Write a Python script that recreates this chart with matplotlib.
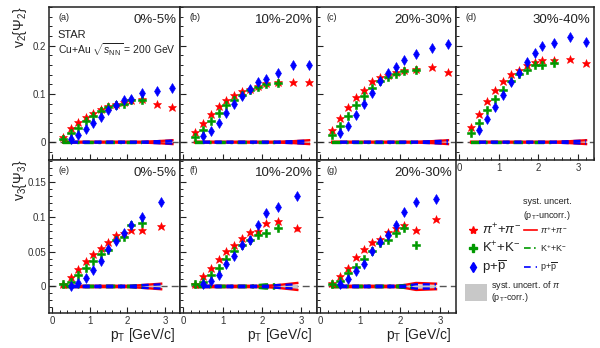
import numpy as np
import matplotlib
matplotlib.use('Agg')
import matplotlib.pyplot as plt
from matplotlib.patches import Rectangle

plt.rcParams['font.family'] = ['Liberation Sans', 'DejaVu Sans']
plt.rcParams['mathtext.fontset'] = 'custom'
plt.rcParams['mathtext.rm'] = 'Liberation Sans'
plt.rcParams['mathtext.it'] = 'Liberation Sans:italic'
plt.rcParams['mathtext.bf'] = 'Liberation Sans:bold'

# ---- data ----
cent_v2 = ['0%-5%', '10%-20%', '20%-30%', '30%-40%']
cent_v3 = ['0%-5%', '10%-20%', '20%-30%']
tags_v2 = ['(a)', '(b)', '(c)', '(d)']
tags_v3 = ['(e)', '(f)', '(g)']

pt2_pi = [0.3, 0.5, 0.7, 0.9, 1.1, 1.3, 1.5, 1.7, 1.9, 2.1, 2.4, 2.8, 3.2]
pt2_k = [0.3, 0.5, 0.7, 0.9, 1.1, 1.3, 1.5, 1.7, 1.9, 2.1, 2.4]
pt2_p = [0.5, 0.7, 0.9, 1.1, 1.3, 1.5, 1.7, 1.9, 2.1, 2.4, 2.8, 3.2]

v2_pi = [
    [0.010, 0.029, 0.041, 0.052, 0.061, 0.069, 0.074, 0.078, 0.083, 0.088, 0.090, 0.080, 0.073],
    [0.021, 0.040, 0.058, 0.074, 0.088, 0.097, 0.106, 0.111, 0.117, 0.123, 0.124, 0.124, 0.124],
    [0.026, 0.051, 0.073, 0.094, 0.109, 0.126, 0.134, 0.139, 0.146, 0.149, 0.152, 0.156, 0.145],
    [0.032, 0.058, 0.086, 0.108, 0.127, 0.141, 0.150, 0.159, 0.166, 0.171, 0.170, 0.173, 0.164],
]
v2_k = [
    [0.006, 0.018, 0.030, 0.043, 0.054, 0.065, 0.072, 0.076, 0.080, 0.087, 0.088],
    [0.011, 0.026, 0.043, 0.061, 0.076, 0.088, 0.098, 0.108, 0.114, 0.121, 0.123],
    [0.014, 0.034, 0.055, 0.076, 0.095, 0.112, 0.126, 0.134, 0.141, 0.148, 0.150],
    [0.019, 0.040, 0.066, 0.090, 0.108, 0.126, 0.142, 0.149, 0.159, 0.159, 0.163],
]
v2_p = [
    [0.007, 0.015, 0.028, 0.040, 0.053, 0.066, 0.076, 0.088, 0.090, 0.101, 0.106, 0.112],
    [0.012, 0.023, 0.040, 0.061, 0.079, 0.095, 0.110, 0.124, 0.131, 0.143, 0.159, 0.160],
    [0.018, 0.034, 0.057, 0.080, 0.102, 0.126, 0.143, 0.156, 0.171, 0.182, 0.196, 0.204],
    [0.025, 0.047, 0.072, 0.097, 0.124, 0.143, 0.166, 0.185, 0.199, 0.206, 0.217, 0.207],
]

pt3_pi = [0.3, 0.5, 0.7, 0.9, 1.1, 1.3, 1.5, 1.7, 1.9, 2.1, 2.4, 2.9]
pt3_k = [0.3, 0.5, 0.7, 0.9, 1.1, 1.3, 1.5, 1.7, 1.9, 2.1, 2.4]
pt3_p = [0.5, 0.7, 0.9, 1.1, 1.3, 1.5, 1.7, 1.9, 2.1, 2.4, 2.9]

v3_pi = [
    [0.004, 0.013, 0.025, 0.036, 0.046, 0.055, 0.064, 0.073, 0.077, 0.081, 0.081, 0.086],
    [0.004, 0.015, 0.026, 0.039, 0.051, 0.059, 0.070, 0.078, 0.079, 0.091, 0.094, 0.083],
    [0.005, 0.015, 0.027, 0.042, 0.053, 0.063, 0.068, 0.078, 0.083, 0.088, 0.081, 0.097],
]
v3_k = [
    [0.003, 0.006, 0.016, 0.026, 0.036, 0.046, 0.052, 0.067, 0.071, 0.088, 0.091],
    [0.003, 0.006, 0.017, 0.027, 0.039, 0.051, 0.059, 0.066, 0.073, 0.077, 0.083],
    [0.004, 0.008, 0.019, 0.028, 0.040, 0.051, 0.062, 0.067, 0.076, 0.084, 0.059],
]
v3_p = [
    [0.0005, 0.005, 0.012, 0.024, 0.037, 0.053, 0.065, 0.076, 0.088, 0.100, 0.121],
    [0.003, 0.008, 0.017, 0.032, 0.044, 0.059, 0.067, 0.088, 0.105, 0.114, 0.129],
    [0.004, 0.010, 0.022, 0.032, 0.051, 0.063, 0.074, 0.088, 0.106, 0.121, 0.125],
]

# systematic uncertainties (half widths of bands around zero)
sys2_pi = [0.001, 0.001, 0.001, 0.001, 0.001, 0.001, 0.001, 0.001, 0.001, 0.001, 0.001, 0.002, 0.004]
sys2_k = [0.001, 0.001, 0.001, 0.001, 0.001, 0.001, 0.001, 0.001, 0.001, 0.001, 0.001]
sys2_p = [0.001, 0.001, 0.001, 0.001, 0.001, 0.001, 0.001, 0.001, 0.001, 0.001, 0.002, 0.003]
sys2_pi_corr = [0.0005, 0.0005, 0.0005, 0.0005, 0.0005, 0.0005, 0.0005, 0.0005, 0.0005, 0.0005, 0.0008, 0.001, 0.002]

sys3_pi = [
    [0.001, 0.001, 0.001, 0.001, 0.001, 0.001, 0.001, 0.001, 0.001, 0.001, 0.002, 0.004],
    [0.001, 0.001, 0.001, 0.001, 0.001, 0.001, 0.001, 0.001, 0.001, 0.001, 0.002, 0.005],
    [0.001, 0.001, 0.001, 0.001, 0.001, 0.001, 0.001, 0.001, 0.001, 0.002, 0.005, 0.004],
]
sys3_k = [
    [0.001, 0.001, 0.001, 0.001, 0.001, 0.001, 0.001, 0.001, 0.001, 0.001, 0.002],
    [0.001, 0.001, 0.001, 0.001, 0.001, 0.001, 0.001, 0.001, 0.002, 0.003, 0.003],
    [0.001, 0.001, 0.001, 0.001, 0.001, 0.001, 0.001, 0.001, 0.001, 0.002, 0.002],
]
sys3_p = [
    [0.001, 0.001, 0.001, 0.001, 0.001, 0.001, 0.001, 0.001, 0.001, 0.002, 0.003],
    [0.001, 0.001, 0.001, 0.001, 0.001, 0.001, 0.001, 0.001, 0.001, 0.002, 0.003],
    [0.001, 0.001, 0.001, 0.001, 0.001, 0.001, 0.001, 0.001, 0.001, 0.003, 0.003],
]
sys3_pi_corr = [
    [0.0005, 0.0005, 0.0005, 0.0005, 0.0005, 0.0005, 0.0005, 0.0005, 0.0005, 0.0005, 0.001, 0.003],
    [0.0005, 0.0005, 0.0005, 0.0005, 0.0005, 0.0005, 0.0005, 0.0005, 0.0005, 0.0005, 0.002, 0.003],
    [0.0005, 0.0005, 0.0005, 0.0005, 0.0005, 0.0005, 0.0005, 0.0005, 0.0005, 0.001, 0.002, 0.002],
]

RED = '#ff0000'
GREEN = '#009900'
BLUE = '#0000ff'

W, H = 600, 348
fig = plt.figure(figsize=(6, 3.48), dpi=100)


def make_ax(x0, x1, y0, y1):
    return fig.add_axes([x0 / W, (H - y1) / H, (x1 - x0) / W, (y1 - y0) / H])


def style_ax(ax, ylim, ymaj, ymin, showx, showy):
    ax.set_xlim(-0.08, 3.4)
    ax.set_ylim(*ylim)
    ax.set_xticks([0, 1, 2, 3])
    ax.set_xticks(np.arange(0, 3.41, 0.2), minor=True)
    ax.set_yticks(ymaj)
    ax.set_yticks(ymin, minor=True)
    ax.tick_params(which='both', direction='in', labelsize=7, colors='#222222',
                   labelcolor='#333333', pad=2)
    ax.tick_params(which='major', length=4, width=0.8)
    ax.tick_params(which='minor', length=2, width=0.7)
    ax.tick_params(labelbottom=showx, labelleft=showy)
    for s in ax.spines.values():
        s.set_linewidth(1.1)
        s.set_color('#222222')
    ax.axhline(0, color='#555555', lw=1.0, ls=(0, (5, 3)), zorder=1)


def draw_panel(ax, pts, vals, syss, corr, yerr):
    # systematic bands near zero
    ax.fill_between(pts[0], -np.array(corr), np.array(corr), color='#c8c8c8', lw=0, zorder=2)
    styles = [(RED, '-'), (GREEN, (0, (4, 2, 1, 2))), (BLUE, (0, (3, 2)))]
    for (c, ls), x, s in zip(styles, pts, syss):
        s = np.array(s)
        ax.plot(x, s, color=c, ls=ls, lw=1.7, zorder=3)
        ax.plot(x, -s, color=c, ls=ls, lw=1.7, zorder=3)
    # data points
    marks = [(RED, '*', 6.3), (GREEN, 'P', 6.3), (BLUE, 'd', 5.6)]
    for (c, m, ms), x, v in zip(marks, pts, vals):
        ax.errorbar(x, v, yerr=yerr, fmt='none', ecolor=c, elinewidth=1, zorder=4)
        ax.plot(x, v, ls='none', marker=m, ms=ms, color=c, mec=c, mew=0.4, zorder=5)


xedges = [(49, 180), (180, 317), (317, 456), (456, 594)]

for i in range(4):
    x0, x1 = xedges[i]
    ax = make_ax(x0, x1, 7, 160)
    style_ax(ax, (-0.037, 0.28), [0, 0.1, 0.2], np.arange(-0.02, 0.281, 0.02),
             showx=(i == 3), showy=(i == 0))
    if i == 0:
        ax.set_yticklabels(['0', '0.1', '0.2'])
    draw_panel(ax, [pt2_pi, pt2_k, pt2_p], [v2_pi[i], v2_k[i], v2_p[i]],
               [sys2_pi, sys2_k, sys2_p], sys2_pi_corr, 0.004)
    ax.text(0.07, 0.93, tags_v2[i], transform=ax.transAxes, fontsize=6.5,
            ha='left', va='center', color='#222222')
    ax.text(0.97, 0.915, cent_v2[i], transform=ax.transAxes, fontsize=9.5,
            ha='right', va='center', color='#222222')
    if i == 0:
        ax.text(0.065, 0.82, 'STAR', transform=ax.transAxes, fontsize=8,
                ha='left', va='center', color='#222222')
        ax.text(0.065, 0.72, r'Cu+Au $\sqrt{s_{\mathrm{NN}}}$ = 200 GeV',
                transform=ax.transAxes, fontsize=7.5, ha='left', va='center',
                color='#222222')

for i in range(3):
    x0, x1 = xedges[i]
    ax = make_ax(x0, x1, 160, 313)
    style_ax(ax, (-0.038, 0.181), [0, 0.05, 0.1, 0.15], np.arange(-0.03, 0.181, 0.01),
             showx=True, showy=(i == 0))
    if i == 0:
        ax.set_yticklabels(['0', '0.05', '0.1', '0.15'])
    draw_panel(ax, [pt3_pi, pt3_k, pt3_p], [v3_pi[i], v3_k[i], v3_p[i]],
               [sys3_pi[i], sys3_k[i], sys3_p[i]], sys3_pi_corr[i], 0.003)
    ax.text(0.07, 0.93, tags_v3[i], transform=ax.transAxes, fontsize=6.5,
            ha='left', va='center', color='#222222')
    ax.text(0.97, 0.915, cent_v3[i], transform=ax.transAxes, fontsize=9.5,
            ha='right', va='center', color='#222222')
    fig.text((x1 - 5) / W, 1 - 326 / H, r'p$_{\mathrm{T}}$ [GeV/c]', fontsize=10,
             ha='right', va='top', color='#222222')

# y axis titles
fig.text(20 / W, 1 - 7 / H, r'v$_{2}\{\Psi_{2}\}$', rotation=90, fontsize=10,
         ha='center', va='top', color='#222222')
fig.text(20 / W, 1 - 160 / H, r'v$_{3}\{\Psi_{3}\}$', rotation=90, fontsize=10,
         ha='center', va='top', color='#222222')

# legend drawn in pixel coordinates
lg = fig.add_axes([456 / W, 0, 144 / W, 188 / H])
lg.set_xlim(456, 600)
lg.set_ylim(348, 160)
lg.axis('off')
tc = '#222222'
lg.text(523, 202, 'syst. uncert.', fontsize=6.5, ha='left', va='center', color=tc)
lg.text(523, 215, r'(p$_{\mathrm{T}}$-uncorr.)', fontsize=6.5, ha='left', va='center', color=tc)
rows = [
    (230, RED, '*', 6, r'$\pi^{+}$+$\pi^{-}$', '-'),
    (248, GREEN, 'P', 6, r'K$^{+}$+K$^{-}$', (0, (4, 2, 1, 2))),
    (267, BLUE, 'd', 5.2, r'p+$\overline{\mathrm{p}}$', (0, (4, 3))),
]
for y, c, m, ms, lab, ls in rows:
    lg.plot([473], [y], marker=m, ms=ms, color=c, ls='none')
    lg.text(482, y, lab, fontsize=9.5, ha='left', va='center', color=tc)
    lg.plot([524, 537], [y, y], color=c, ls=ls, lw=1.2)
    lg.text(540, y, lab, fontsize=6.5, ha='left', va='center', color=tc)
lg.add_patch(Rectangle((465, 284), 22, 17, color='#c8c8c8', lw=0))
lg.text(491, 286, r'syst. uncert. of $\pi$', fontsize=6.5, ha='left', va='center', color=tc)
lg.text(491, 298, r'(p$_{\mathrm{T}}$-corr.)', fontsize=6.5, ha='left', va='center', color=tc)

fig.savefig('out.png', dpi=100)
